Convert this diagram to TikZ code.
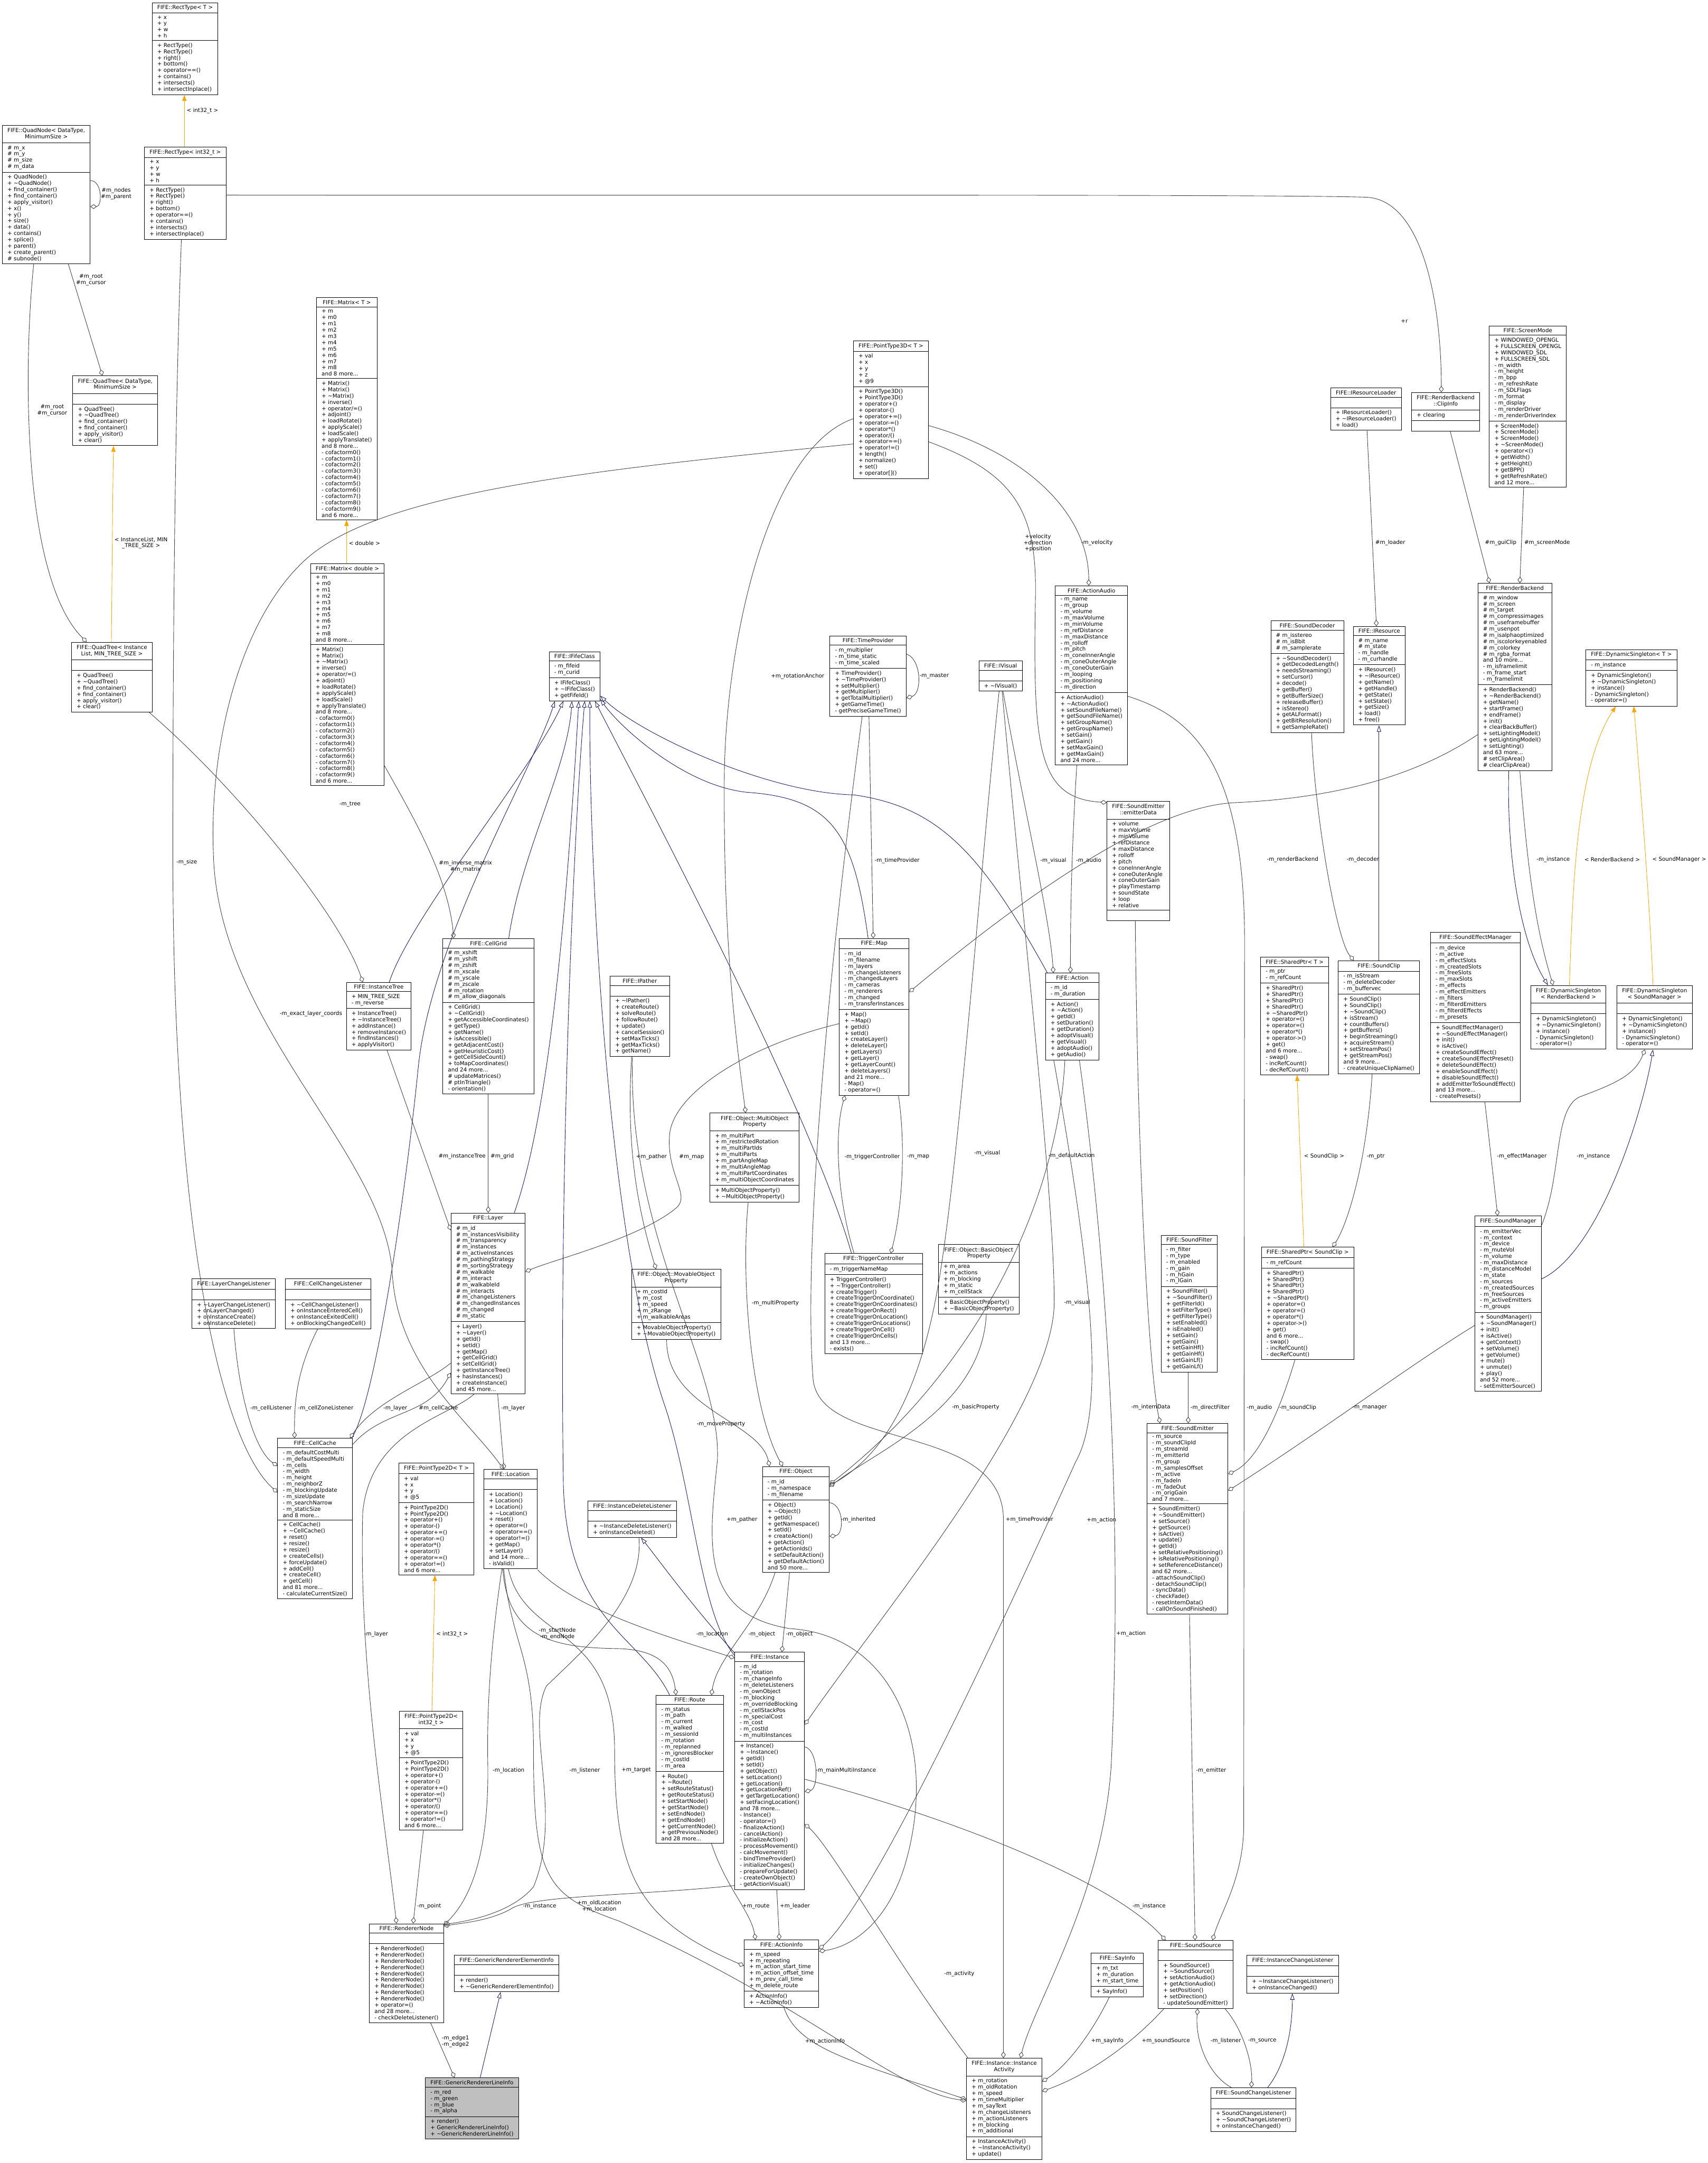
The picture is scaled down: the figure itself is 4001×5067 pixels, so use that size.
\documentclass[tikz,border=0pt]{standalone}
\usepackage{fontspec}
\setmainfont{DejaVu Sans}
\usetikzlibrary{shapes.multipart,arrows.meta,calc}
\definecolor{navy}{HTML}{191970}
\definecolor{egray}{HTML}{404040}
\definecolor{orng}{HTML}{FFA500}
\definecolor{lgray}{HTML}{BFBFBF}
\newcommand{\cf}{\fontsize{6.4pt}{7.35pt}\selectfont}
\newcommand{\tld}{\textasciitilde}
\newcommand{\ctr}[1]{\begin{tabular}{@{}c@{}}#1\end{tabular}}
\newcommand{\rectm}{+ RectType()\\+ RectType()\\+ right()\\+ bottom()\\+ operator==()\\+ contains()\\+ intersects()\\+ intersectInplace()}
\newcommand{\qtm}{+ QuadTree()\\+ \tld QuadTree()\\+ find\_container()\\+ find\_container()\\+ apply\_visitor()\\+ clear()}
\newcommand{\mtxa}{+ m\\+ m0\\+ m1\\+ m2\\+ m3\\+ m4\\+ m5\\+ m6\\+ m7\\+ m8\\and 8 more...}
\newcommand{\mtxm}{+ Matrix()\\+ Matrix()\\+ \tld Matrix()\\+ inverse()\\+ operator/=()\\+ adjoint()\\+ loadRotate()\\+ applyScale()\\+ loadScale()\\+ applyTranslate()\\and 8 more...\\- cofactorm0()\\- cofactorm1()\\- cofactorm2()\\- cofactorm3()\\- cofactorm4()\\- cofactorm5()\\- cofactorm6()\\- cofactorm7()\\- cofactorm8()\\- cofactorm9()\\and 6 more...}
\newcommand{\ptm}{+ PointType2D()\\+ PointType2D()\\+ operator+()\\+ operator-()\\+ operator+=()\\+ operator-=()\\+ operator*()\\+ operator/()\\+ operator==()\\+ operator!=()\\and 6 more...}
\newcommand{\spm}{+ SharedPtr()\\+ SharedPtr()\\+ SharedPtr()\\+ SharedPtr()\\+ \tld SharedPtr()\\+ operator=()\\+ operator=()\\+ operator*()\\+ operator->()\\+ get()\\and 6 more...\\- swap()\\- incRefCount()\\- decRefCount()}
\newcommand{\dsm}{+ DynamicSingleton()\\+ \tld DynamicSingleton()\\+ instance()\\- DynamicSingleton()\\- operator=()}
\tikzset{
  cls/.style={draw=black, line width=0.6pt, fill=white, rectangle split, rectangle split parts=3,
    anchor=north west, font=\cf, inner xsep=6pt, inner ysep=2.7pt, align=left,
    rectangle split part align={center,left,left},
    rectangle split empty part height=6.4pt, rectangle split empty part depth=0pt},
  assoc/.style={draw=egray, line width=0.55pt, -{Diamond[open,length=7.5pt,width=5.5pt]}},
  inh/.style={draw=navy, line width=0.55pt, -{Triangle[open,length=7.5pt,width=5pt]}},
  tmpl/.style={draw=orng, line width=0.55pt, -{Triangle[length=7pt,width=5pt,fill=orng]}},
  lbl/.style={font=\cf, inner sep=0pt, anchor=west, align=center},
}
\begin{document}
\begin{tikzpicture}[x=0.5pt,y=-0.5pt]
\useasboundingbox (0,0) rectangle (4001,5067);
\fill[white] (0,0) rectangle (4001,5067);

% ---------------- classes ----------------
\node[cls] (rt) at (356,6) {FIFE::RectType< T >\nodepart{two}+ x\\+ y\\+ w\\+ h\nodepart{three}\rectm};
\node[cls] (rti) at (338,344) {FIFE::RectType< int32\_t >\nodepart{two}+ x\\+ y\\+ w\\+ h\nodepart{three}\rectm};
\node[cls] (qn) at (5,293) {\ctr{FIFE::QuadNode< DataType,\\ MinimumSize >}\nodepart{two}\# m\_x\\\# m\_y\\\# m\_size\\\# m\_data\nodepart{three}+ QuadNode()\\+ \tld QuadNode()\\+ find\_container()\\+ find\_container()\\+ apply\_visitor()\\+ x()\\+ y()\\+ size()\\+ data()\\+ contains()\\+ splice()\\+ parent()\\+ create\_parent()\\\# subnode()};
\node[cls] (qt) at (170,880) {\ctr{FIFE::QuadTree< DataType,\\ MinimumSize >}\nodepart{two}\nodepart{three}\qtm};
\node[cls] (qti) at (167,1504) {\ctr{FIFE::QuadTree< Instance\\List, MIN\_TREE\_SIZE >}\nodepart{two}\nodepart{three}\qtm};
\node[cls] (mt) at (741,697) {FIFE::Matrix< T >\nodepart{two}\mtxa\nodepart{three}\mtxm};
\node[cls] (md) at (727,1320) {FIFE::Matrix< double >\nodepart{two}\mtxa\nodepart{three}\mtxm};
\node[cls] (ifc) at (1286,1526) {FIFE::IFifeClass\nodepart{two}- m\_fifeid\\- m\_curid\nodepart{three}+ IFifeClass()\\+ \tld IFifeClass()\\+ getFifeId()};
\node[cls] (it) at (811,2301) {FIFE::InstanceTree\nodepart{two}+ MIN\_TREE\_SIZE\\- m\_reverse\nodepart{three}+ InstanceTree()\\+ \tld InstanceTree()\\+ addInstance()\\+ removeInstance()\\+ findInstances()\\+ applyVisitor()};
\node[cls] (cg) at (1037,2198) {FIFE::CellGrid\nodepart{two}\# m\_xshift\\\# m\_yshift\\\# m\_zshift\\\# m\_xscale\\\# m\_yscale\\\# m\_zscale\\\# m\_rotation\\\# m\_allow\_diagonals\nodepart{three}+ CellGrid()\\+ \tld CellGrid()\\+ getAccessibleCoordinates()\\+ getType()\\+ getName()\\+ isAccessible()\\+ getAdjacentCost()\\+ getHeuristicCost()\\+ getCellSideCount()\\+ toMapCoordinates()\\and 24 more...\\\# updateMatrices()\\\# ptInTriangle()\\- orientation()};
\node[cls] (ly) at (1056,2841) {FIFE::Layer\nodepart{two}\# m\_id\\\# m\_instancesVisibility\\\# m\_transparency\\\# m\_instances\\\# m\_activeInstances\\\# m\_pathingStrategy\\\# m\_sortingStrategy\\\# m\_walkable\\\# m\_interact\\\# m\_walkableId\\\# m\_interacts\\\# m\_changeListeners\\\# m\_changedInstances\\\# m\_changed\\\# m\_static\nodepart{three}+ Layer()\\+ \tld Layer()\\+ getId()\\+ setId()\\+ getMap()\\+ getCellGrid()\\+ setCellGrid()\\+ getInstanceTree()\\+ hasInstances()\\+ createInstance()\\and 45 more...};
\node[cls] (lcl) at (449,2995) {FIFE::LayerChangeListener\nodepart{two}\nodepart{three}+ \tld LayerChangeListener()\\+ onLayerChanged()\\+ onInstanceCreate()\\+ onInstanceDelete()};
\node[cls] (ccl) at (668,2995) {FIFE::CellChangeListener\nodepart{two}\nodepart{three}+ \tld CellChangeListener()\\+ onInstanceEnteredCell()\\+ onInstanceExitedCell()\\+ onBlockingChangedCell()};
\node[cls] (cc) at (650,3369) {FIFE::CellCache\nodepart{two}- m\_defaultCostMulti\\- m\_defaultSpeedMulti\\- m\_cells\\- m\_width\\- m\_height\\- m\_neighborZ\\- m\_blockingUpdate\\- m\_sizeUpdate\\- m\_searchNarrow\\- m\_staticSize\\and 8 more...\nodepart{three}+ CellCache()\\+ \tld CellCache()\\+ reset()\\+ resize()\\+ resize()\\+ createCells()\\+ forceUpdate()\\+ addCell()\\+ createCell()\\+ getCell()\\and 81 more...\\- calculateCurrentSize()};
\node[cls] (p2) at (934,3427) {FIFE::PointType2D< T >\nodepart{two}+ val\\+ x\\+ y\\+ @5\nodepart{three}\ptm};
\node[cls] (loc) at (1133,3442) {FIFE::Location\nodepart{two}\nodepart{three}+ Location()\\+ Location()\\+ Location()\\+ \tld Location()\\+ reset()\\+ operator=()\\+ operator==()\\+ operator!=()\\+ getMap()\\+ setLayer()\\and 14 more...\\- isValid()};
\node[cls] (idl) at (1377,3516) {FIFE::InstanceDeleteListener\nodepart{two}\nodepart{three}+ \tld InstanceDeleteListener()\\+ onInstanceDeleted()};
\node[cls] (p2i) at (935,4008) {\ctr{FIFE::PointType2D<\\ int32\_t >}\nodepart{two}+ val\\+ x\\+ y\\+ @5\nodepart{three}\ptm};
\node[cls] (rn) at (865,4506) {FIFE::RendererNode\nodepart{two}\nodepart{three}+ RendererNode()\\+ RendererNode()\\+ RendererNode()\\+ RendererNode()\\+ RendererNode()\\+ RendererNode()\\+ RendererNode()\\+ RendererNode()\\+ RendererNode()\\+ operator=()\\and 28 more...\\- checkDeleteListener()};
\node[cls] (gre) at (1064,4580) {FIFE::GenericRendererElementInfo\nodepart{two}\nodepart{three}+ render()\\+ \tld GenericRendererElementInfo()};
\node[cls, fill=lgray] (grl) at (996,4867) {FIFE::GenericRendererLineInfo\nodepart{two}- m\_red\\- m\_green\\- m\_blue\\- m\_alpha\nodepart{three}+ render()\\+ GenericRendererLineInfo()\\+ \tld GenericRendererLineInfo()};
\node[cls] (ip) at (1429,2286) {FIFE::IPather\nodepart{two}\nodepart{three}+ \tld IPather()\\+ createRoute()\\+ solveRoute()\\+ followRoute()\\+ update()\\+ cancelSession()\\+ setMaxTicks()\\+ getMaxTicks()\\+ getName()};
\node[cls] (mop) at (1479,2973) {\ctr{FIFE::Object::MovableObject\\Property}\nodepart{two}+ m\_costId\\+ m\_cost\\+ m\_speed\\+ m\_zRange\\+ m\_walkableAreas\nodepart{three}+ MovableObjectProperty()\\+ \tld MovableObjectProperty()};
\node[cls] (mup) at (1663,2607) {\ctr{FIFE::Object::MultiObject\\Property}\nodepart{two}+ m\_multiPart\\+ m\_restrictedRotation\\+ m\_multiPartIds\\+ m\_multiParts\\+ m\_partAngleMap\\+ m\_multiAngleMap\\+ m\_multiPartCoordinates\\+ m\_multiObjectCoordinates\nodepart{three}+ MultiObjectProperty()\\+ \tld MultiObjectProperty()};
\node[cls] (tc) at (1932,2936) {FIFE::TriggerController\nodepart{two}- m\_triggerNameMap\nodepart{three}+ TriggerController()\\+ \tld TriggerController()\\+ createTrigger()\\+ createTriggerOnCoordinate()\\+ createTriggerOnCoordinates()\\+ createTriggerOnRect()\\+ createTriggerOnLocation()\\+ createTriggerOnLocations()\\+ createTriggerOnCell()\\+ createTriggerOnCells()\\and 13 more...\\- exists()};
\node[cls] (map) at (1966,2198) {FIFE::Map\nodepart{two}- m\_id\\- m\_filename\\- m\_layers\\- m\_changeListeners\\- m\_changedLayers\\- m\_cameras\\- m\_renderers\\- m\_changed\\- m\_transferInstances\nodepart{three}+ Map()\\+ \tld Map()\\+ getId()\\+ setId()\\+ createLayer()\\+ deleteLayer()\\+ getLayers()\\+ getLayer()\\+ getLayerCount()\\+ deleteLayers()\\and 21 more...\\- Map()\\- operator=()};
\node[cls] (tp) at (1944,1489) {FIFE::TimeProvider\nodepart{two}- m\_multiplier\\- m\_time\_static\\- m\_time\_scaled\nodepart{three}+ TimeProvider()\\+ \tld TimeProvider()\\+ setMultiplier()\\+ getMultiplier()\\+ getTotalMultiplier()\\+ getGameTime()\\- getPreciseGameTime()};
\node[cls] (p3) at (1999,798) {FIFE::PointType3D< T >\nodepart{two}+ val\\+ x\\+ y\\+ z\\+ @9\nodepart{three}+ PointType3D()\\+ PointType3D()\\+ operator+()\\+ operator-()\\+ operator+=()\\+ operator-=()\\+ operator*()\\+ operator/()\\+ operator==()\\+ operator!=()\\+ length()\\+ normalize()\\+ set()\\+ operator[]()};
\node[cls] (obj) at (1786,3435) {FIFE::Object\nodepart{two}- m\_id\\- m\_namespace\\- m\_filename\nodepart{three}+ Object()\\+ \tld Object()\\+ getId()\\+ getNamespace()\\+ setId()\\+ createAction()\\+ getAction()\\+ getActionIds()\\+ setDefaultAction()\\+ getDefaultAction()\\and 50 more...};
\node[cls] (rt2) at (1537,3971) {FIFE::Route\nodepart{two}- m\_status\\- m\_path\\- m\_current\\- m\_walked\\- m\_sessionId\\- m\_rotation\\- m\_replanned\\- m\_ignoresBlocker\\- m\_costId\\- m\_area\nodepart{three}+ Route()\\+ \tld Route()\\+ setRouteStatus()\\+ getRouteStatus()\\+ setStartNode()\\+ getStartNode()\\+ setEndNode()\\+ getEndNode()\\+ getCurrentNode()\\+ getPreviousNode()\\and 28 more...};
\node[cls] (inst) at (1721,3870) {FIFE::Instance\nodepart{two}- m\_id\\- m\_rotation\\- m\_changeInfo\\- m\_deleteListeners\\- m\_ownObject\\- m\_blocking\\- m\_overrideBlocking\\- m\_cellStackPos\\- m\_specialCost\\- m\_cost\\- m\_costId\\- m\_multiInstances\nodepart{three}+ Instance()\\+ \tld Instance()\\+ getId()\\+ setId()\\+ getObject()\\+ setLocation()\\+ getLocation()\\+ getLocationRef()\\+ getTargetLocation()\\+ setFacingLocation()\\and 78 more...\\- Instance()\\- operator=()\\- finalizeAction()\\- cancelAction()\\- initializeAction()\\- processMovement()\\- calcMovement()\\- bindTimeProvider()\\- initializeChanges()\\- prepareForUpdate()\\- createOwnObject()\\- getActionVisual()};
\node[cls] (ai) at (1743,4544) {FIFE::ActionInfo\nodepart{two}+ m\_speed\\+ m\_repeating\\+ m\_action\_start\_time\\+ m\_action\_offset\_time\\+ m\_prev\_call\_time\\+ m\_delete\_route\nodepart{three}+ ActionInfo()\\+ \tld ActionInfo()};
\node[cls] (ia) at (2264,4821) {\ctr{FIFE::Instance::Instance\\Activity}\nodepart{two}+ m\_rotation\\+ m\_oldRotation\\+ m\_speed\\+ m\_timeMultiplier\\+ m\_sayText\\+ m\_changeListeners\\+ m\_actionListeners\\+ m\_blocking\\+ m\_additional\nodepart{three}+ InstanceActivity()\\+ \tld InstanceActivity()\\+ update()};
\node[cls] (iv) at (2293,1548) {FIFE::IVisual\nodepart{two}\nodepart{three}+ \tld IVisual()};
\node[cls] (aa) at (2472,1372) {FIFE::ActionAudio\nodepart{two}- m\_name\\- m\_group\\- m\_volume\\- m\_maxVolume\\- m\_minVolume\\- m\_refDistance\\- m\_maxDistance\\- m\_rolloff\\- m\_pitch\\- m\_coneInnerAngle\\- m\_coneOuterAngle\\- m\_coneOuterGain\\- m\_looping\\- m\_positioning\\- m\_direction\nodepart{three}+ ActionAudio()\\+ \tld ActionAudio()\\+ setSoundFileName()\\+ getSoundFileName()\\+ setGroupName()\\+ getGroupName()\\+ setGain()\\+ getGain()\\+ setMaxGain()\\+ getMaxGain()\\and 24 more...};
\node[cls] (ed) at (2593,1877) {\ctr{FIFE::SoundEmitter\\::emitterData}\nodepart{two}+ volume\\+ maxVolume\\+ minVolume\\+ refDistance\\+ maxDistance\\+ rolloff\\+ pitch\\+ coneInnerAngle\\+ coneOuterAngle\\+ coneOuterGain\\+ playTimestamp\\+ soundState\\+ loop\\+ relative\nodepart{three}};
\node[cls] (act) at (2449,2279) {FIFE::Action\nodepart{two}- m\_id\\- m\_duration\nodepart{three}+ Action()\\+ \tld Action()\\+ getId()\\+ setDuration()\\+ getDuration()\\+ adoptVisual()\\+ getVisual()\\+ adoptAudio()\\+ getAudio()};
\node[cls] (bop) at (2198,2915) {\ctr{FIFE::Object::BasicObject\\Property}\nodepart{two}+ m\_area\\+ m\_actions\\+ m\_blocking\\+ m\_static\\+ m\_cellStack\nodepart{three}+ BasicObjectProperty()\\+ \tld BasicObjectProperty()};
\node[cls] (sf) at (2720,2893) {FIFE::SoundFilter\nodepart{two}- m\_filter\\- m\_type\\- m\_enabled\\- m\_gain\\- m\_hGain\\- m\_lGain\nodepart{three}+ SoundFilter()\\+ \tld SoundFilter()\\+ getFilterId()\\+ setFilterType()\\+ getFilterType()\\+ setEnabled()\\+ isEnabled()\\+ setGain()\\+ getGain()\\+ setGainHf()\\+ getGainHf()\\+ setGainLf()\\+ getGainLf()};
\node[cls] (se) at (2687,3334) {FIFE::SoundEmitter\nodepart{two}- m\_source\\- m\_soundClipId\\- m\_streamId\\- m\_emitterId\\- m\_group\\- m\_samplesOffset\\- m\_active\\- m\_fadeIn\\- m\_fadeOut\\- m\_origGain\\and 7 more...\nodepart{three}+ SoundEmitter()\\+ \tld SoundEmitter()\\+ setSource()\\+ getSource()\\+ isActive()\\+ update()\\+ getId()\\+ setRelativePositioning()\\+ isRelativePositioning()\\+ setReferenceDistance()\\and 62 more...\\- attachSoundClip()\\- detachSoundClip()\\- syncData()\\- checkFade()\\- resetInternData()\\- callOnSoundFinished()};
\node[cls] (si) at (2556,4575) {FIFE::SayInfo\nodepart{two}+ m\_txt\\+ m\_duration\\+ m\_start\_time\nodepart{three}+ SayInfo()};
\node[cls] (ss) at (2713,4545) {FIFE::SoundSource\nodepart{two}\nodepart{three}+ SoundSource()\\+ \tld SoundSource()\\+ setActionAudio()\\+ getActionAudio()\\+ setPosition()\\+ setDirection()\\- updateSoundEmitter()};
\node[cls] (icl) at (2921,4580) {FIFE::InstanceChangeListener\nodepart{two}\nodepart{three}+ \tld InstanceChangeListener()\\+ onInstanceChanged()};
\node[cls] (scl) at (2836,4890) {FIFE::SoundChangeListener\nodepart{two}\nodepart{three}+ SoundChangeListener()\\+ \tld SoundChangeListener()\\+ onInstanceChanged()};
\node[cls] (sd) at (2977,1454) {FIFE::SoundDecoder\nodepart{two}\# m\_isstereo\\\# m\_is8bit\\\# m\_samplerate\nodepart{three}+ \tld SoundDecoder()\\+ getDecodedLength()\\+ needsStreaming()\\+ setCursor()\\+ decode()\\+ getBuffer()\\+ getBufferSize()\\+ releaseBuffer()\\+ isStereo()\\+ getALFormat()\\+ getBitResolution()\\+ getSampleRate()};
\node[cls] (irl) at (3117,908) {FIFE::IResourceLoader\nodepart{two}\nodepart{three}+ IResourceLoader()\\+ \tld IResourceLoader()\\+ load()};
\node[cls] (ir) at (3170,1467) {FIFE::IResource\nodepart{two}\# m\_name\\\# m\_state\\- m\_handle\\- m\_curhandle\nodepart{three}+ IResource()\\+ \tld IResource()\\+ getName()\\+ getHandle()\\+ getState()\\+ setState()\\+ getSize()\\+ load()\\+ free()};
\node[cls] (spt) at (2953,2242) {FIFE::SharedPtr< T >\nodepart{two}- m\_ptr\\- m\_refCount\nodepart{three}\spm};
\node[cls] (sc) at (3135,2250) {FIFE::SoundClip\nodepart{two}- m\_isStream\\- m\_deleteDecoder\\- m\_buffervec\nodepart{three}+ SoundClip()\\+ SoundClip()\\+ \tld SoundClip()\\+ isStream()\\+ countBuffers()\\+ getBuffers()\\+ beginStreaming()\\+ acquireStream()\\+ setStreamPos()\\+ getStreamPos()\\and 9 more...\\- createUniqueClipName()};
\node[cls] (spc) at (2955,2921) {FIFE::SharedPtr< SoundClip >\nodepart{two}- m\_refCount\nodepart{three}\spm};
\node[cls] (sem) at (3351,2184) {FIFE::SoundEffectManager\nodepart{two}- m\_device\\- m\_active\\- m\_effectSlots\\- m\_createdSlots\\- m\_freeSlots\\- m\_maxSlots\\- m\_effects\\- m\_effectEmitters\\- m\_filters\\- m\_filterdEmitters\\- m\_filterdEffects\\- m\_presets\nodepart{three}+ SoundEffectManager()\\+ \tld SoundEffectManager()\\+ init()\\+ isActive()\\+ createSoundEffect()\\+ createSoundEffectPreset()\\+ deleteSoundEffect()\\+ enableSoundEffect()\\+ disableSoundEffect()\\+ addEmitterToSoundEffect()\\and 13 more...\\- createPresets()};
\node[cls] (sm) at (3455,2848) {FIFE::SoundManager\nodepart{two}- m\_emitterVec\\- m\_context\\- m\_device\\- m\_muteVol\\- m\_volume\\- m\_maxDistance\\- m\_distanceModel\\- m\_state\\- m\_sources\\- m\_createdSources\\- m\_freeSources\\- m\_activeEmitters\\- m\_groups\nodepart{three}+ SoundManager()\\+ \tld SoundManager()\\+ init()\\+ isActive()\\+ getContext()\\+ setVolume()\\+ getVolume()\\+ mute()\\+ unmute()\\+ play()\\and 52 more...\\- setEmitterSource()};
\node[cls] (ci) at (3307,919) {\ctr{FIFE::RenderBackend\\::ClipInfo}\nodepart{two}+ clearing\nodepart{three}};
\node[cls] (scm) at (3489,763) {FIFE::ScreenMode\nodepart{two}+ WINDOWED\_OPENGL\\+ FULLSCREEN\_OPENGL\\+ WINDOWED\_SDL\\+ FULLSCREEN\_SDL\\- m\_width\\- m\_height\\- m\_bpp\\- m\_refreshRate\\- m\_SDLFlags\\- m\_format\\- m\_display\\- m\_renderDriver\\- m\_renderDriverIndex\nodepart{three}+ ScreenMode()\\+ ScreenMode()\\+ ScreenMode()\\+ \tld ScreenMode()\\+ operator<()\\+ getWidth()\\+ getHeight()\\+ getBPP()\\+ getRefreshRate()\\and 12 more...};
\node[cls] (rb) at (3462,1366) {FIFE::RenderBackend\nodepart{two}\# m\_window\\\# m\_screen\\\# m\_target\\\# m\_compressimages\\\# m\_useframebuffer\\\# m\_usenpot\\\# m\_isalphaoptimized\\\# m\_iscolorkeyenabled\\\# m\_colorkey\\\# m\_rgba\_format\\and 10 more...\\- m\_isframelimit\\- m\_frame\_start\\- m\_framelimit\nodepart{three}+ RenderBackend()\\+ \tld RenderBackend()\\+ getName()\\+ startFrame()\\+ endFrame()\\+ init()\\+ clearBackBuffer()\\+ setLightingModel()\\+ getLightingModel()\\+ setLighting()\\and 63 more...\\\# setClipArea()\\\# clearClipArea()};
\node[cls] (dst) at (3715,1521) {FIFE::DynamicSingleton< T >\nodepart{two}- m\_instance\nodepart{three}\dsm};
\node[cls] (dsr) at (3586,2308) {\ctr{FIFE::DynamicSingleton\\< RenderBackend >}\nodepart{two}\nodepart{three}\dsm};
\node[cls] (dss) at (3788,2308) {\ctr{FIFE::DynamicSingleton\\< SoundManager >}\nodepart{two}\nodepart{three}\dsm};

% ---------------- template instances ----------------
\draw[tmpl] ($(rti.north west)+(94,0)$) -- ($(rt.south west)+(76,0)$);
\node[lbl] (l01) at (437,260) {< int32\_t >};
\draw[tmpl] ($(qti.north west)+(94,0)$) .. controls (262,1400) and (264,1150) .. ($(qt.south west)+(96,0)$);
\node[lbl] (l02) at (268,1272) {< InstanceList, MIN\\\_TREE\_SIZE >};
\draw[tmpl] ($(md.north west)+(85,0)$) -- ($(mt.south west)+(71,0)$);
\node[lbl] (l03) at (817,1272) {< double >};
\draw[tmpl] ($(p2i.north west)+(77,0)$) -- ($(p2.south west)+(85,0)$);
\node[lbl] (l04) at (1022,3828) {< int32\_t >};
\draw[tmpl] ($(spc.north west)+(100,0)$) -- ($(spt.south west)+(86,0)$);
\node[lbl] (l05) at (3055,2709) {< SoundClip >};
\draw[tmpl] ($(dsr.north west)+(91,0)$) .. controls (3685,2100) and (3690,1800) .. ($(dst.south west)+(71,0)$);
\node[lbl] (l06) at (3712,2014) {< RenderBackend >};
\draw[tmpl] ($(dss.north west)+(85,0)$) .. controls (3865,2100) and (3840,1800) .. ($(dst.south west)+(113,0)$);
\node[lbl] (l07) at (3871,2014) {< SoundManager >};

% ---------------- inheritance ----------------
\draw[inh] ($(it.north west)+(101,0)$) .. controls (960,2150) and (1250,1800) .. ($(ifc.south west)+(34,0)$);
\draw[inh] ($(cg.north west)+(155,0)$) .. controls (1220,2000) and (1330,1800) .. ($(ifc.south west)+(54,0)$);
\draw[inh] ($(ly.north west)+(149,0)$) .. controls (1290,2600) and (1330,2100) .. ($(ifc.south west)+(70,0)$);
\draw[inh] ($(cc.north east)+(-2,0)$) .. controls (880,3280) and (950,2800) .. (980,2500) .. controls (1010,2200) and (1250,1800) .. ($(ifc.south west)+(14,0)$);
\draw[inh] ($(rt2.north west)+(32,0)$) .. controls (1500,3830) and (1330,3800) .. (1320,3480) .. controls (1310,2800) and (1340,2000) .. ($(ifc.south west)+(84,0)$);
\draw[inh] ($(inst.north west)+(0,8)$) .. controls (1640,3780) and (1625,3500) .. (1560,3300) .. controls (1420,2900) and (1380,2000) .. ($(ifc.south west)+(96,0)$);
\draw[inh] ($(tc.north west)+(63,0)$) .. controls (1900,2600) and (1500,1850) .. ($(ifc.south west)+(108,0)$);
\draw[inh] ($(map.north west)+(68,0)$) .. controls (2000,1950) and (1950,1870) .. (1750,1856) .. controls (1600,1840) and (1450,1700) .. ($(ifc.north east)+(0,112)$);
\draw[inh] ($(act.north west)+(5,0)$) .. controls (2300,2000) and (2200,1890) .. (2000,1862) .. controls (1800,1858) and (1500,1720) .. ($(ifc.north east)+(0,104)$);
\draw[inh] ($(inst.north west)+(0,2)$) .. controls (1620,3760) and (1540,3650) .. ($(idl.south west)+(125,0)$);
\draw[inh] ($(grl.north west)+(129,0)$) -- ($(gre.south west)+(109,0)$);
\draw[inh] ($(scl.north west)+(134,0)$) .. controls (3010,4840) and (3028,4760) .. ($(icl.south west)+(107,0)$);
\draw[inh] ($(sc.north west)+(96,0)$) -- ($(ir.south west)+(61,0)$);
\draw[inh] ($(rb.south west)+(73,0)$) .. controls (3530,2000) and (3560,2200) .. ($(dsr.north west)+(41,0)$);
\draw[inh] ($(sm.north east)+(0,148)$) .. controls (3750,2930) and (3850,2600) .. ($(dss.south west)+(85,0)$);

% ---------------- associations ----------------
\draw[assoc] ($(qn.north east)+(0,130)$) .. controls (240,423) and (240,484) .. ($(qn.north east)+(0,191)$);
\node[lbl] (l10) at (236,454) {\#m\_nodes\\\#m\_parent};
\draw[assoc] ($(qn.south west)+(155,0)$) -- ($(qt.north west)+(70,0)$);
\node[lbl] (l11) at (178,656) {\#m\_root\\\#m\_cursor};
\draw[assoc] ($(qn.south west)+(74,0)$) .. controls (55,850) and (50,1350) .. ($(qti.north west)+(36,0)$);
\node[lbl] (l12) at (87,961) {\#m\_root\\\#m\_cursor};
\draw[assoc] ($(rti.north east)+(0,113)$) .. controls (1500,458) and (3000,455) .. (3200,462) .. controls (3330,466) and (3377,700) .. ($(ci.north west)+(70,0)$);
\node[lbl] (l13) at (3282,752) {+r};
\draw[assoc] ($(rti.south west)+(87,0)$) .. controls (412,900) and (405,1400) .. (405,2000) .. controls (405,2900) and (520,3380) .. ($(cc.north west)+(0,127)$);
\node[lbl] (l14) at (413,2020) {-m\_size};
\draw[assoc] ($(qti.south west)+(182,0)$) .. controls (560,1850) and (800,2150) .. ($(it.north west)+(39,0)$);
\node[lbl] (l15) at (795,1884) {-m\_tree};
\draw[assoc] ($(md.north east)+(0,474)$) .. controls (960,1900) and (1050,2050) .. ($(cg.north west)+(26,0)$);
\node[lbl] (l16) at (1028,2030) {\#m\_inverse\_matrix\\\#m\_matrix};
\draw[assoc] ($(p3.north west)+(0,242)$) .. controls (1400,1100) and (900,1150) .. (719,1308) .. controls (560,1450) and (490,1750) .. (500,2000) .. controls (510,2400) and (900,2700) .. (919,2980) .. controls (930,3200) and (1100,3330) .. ($(loc.north west)+(47,0)$);
\node[lbl] (l17) at (655,2375) {-m\_exact\_layer\_coords};
\draw[assoc] ($(p3.north west)+(0,183)$) .. controls (1800,1050) and (1700,1500) .. (1697,1822) .. controls (1695,2200) and (1720,2400) .. ($(mup.north west)+(84,0)$);
\node[lbl] (l18) at (1806,1584) {+m\_rotationAnchor};
\draw[assoc] ($(p3.north east)+(0,199)$) .. controls (2400,1060) and (2551,1200) .. ($(aa.north west)+(79,0)$);
\node[lbl] (l19) at (2533,1272) {-m\_velocity};
\draw[assoc] ($(p3.north east)+(0,237)$) .. controls (2380,1110) and (2430,1200) .. (2426,1400) .. controls (2420,1750) and (2430,1870) .. ($(ed.north west)+(0,3)$);
\node[lbl] (l20) at (2398,1272) {+velocity\\+direction\\+position};
\draw[assoc] ($(ip.south west)+(51,0)$) .. controls (1465,2700) and (1500,2850) .. ($(mop.north west)+(58,0)$);
\node[lbl] (l21) at (1490,2710) {+m\_pather};
\draw[assoc] ($(ip.south west)+(53,0)$) .. controls (1470,2900) and (1690,3200) .. (1681,3420) .. controls (1660,3620) and (1640,3780) .. (1850,3815) .. controls (2100,3830) and (2200,4100) .. (2120,4370) .. controls (2080,4500) and (2000,4560) .. ($(ai.north east)+(0,27)$);
\node[lbl] (l22) at (1702,3560) {+m\_pather};
\draw[assoc] ($(map.north west)+(0,200)$) .. controls (1750,2450) and (1580,2560) .. (1569,2656) .. controls (1560,2750) and (1620,2800) .. (1584,2830) .. controls (1500,2900) and (1300,2950) .. ($(ly.north east)+(0,138)$);
\node[lbl] (l23) at (1591,2710) {\#m\_map};
\draw[assoc] ($(tc.north west)+(69,0)$) .. controls (1960,2800) and (1955,2650) .. ($(map.south west)+(14,0)$);
\node[lbl] (l24) at (1978,2710) {-m\_triggerController};
\draw[assoc] ($(map.south west)+(139,0)$) .. controls (2125,2700) and (2110,2850) .. ($(tc.north west)+(155,0)$);
\node[lbl] (l25) at (2125,2710) {-m\_map};
\draw[assoc] ($(tp.south west)+(92,0)$) -- ($(map.north west)+(80,0)$);
\node[lbl] (l26) at (2049,2016) {-m\_timeProvider};
\draw[assoc] ($(tp.north east)+(0,43)$) .. controls (2160,1545) and (2160,1625) .. ($(tp.north east)+(0,146)$);
\node[lbl] (l27) at (2154,1584) {-m\_master};
\draw[assoc] ($(tp.south west)+(76,0)$) .. controls (1950,2200) and (1880,2900) .. (1905,3230) .. controls (1920,3400) and (2351,3330) .. (2351,3560) -- ($(ia.north west)+(87,0)$);
\node[lbl] (l28) at (2356,3560) {+m\_timeProvider};
\draw[assoc] ($(mop.south west)+(83,0)$) .. controls (1560,3300) and (1780,3330) .. ($(obj.north west)+(17,0)$);
\node[lbl] (l29) at (1632,3336) {-m\_moveProperty};
\draw[assoc] ($(mup.south west)+(90,0)$) .. controls (1735,3000) and (1760,3300) .. ($(obj.north west)+(48,0)$);
\node[lbl] (l30) at (1761,3053) {-m\_multiProperty};
\draw[assoc] ($(bop.south west)+(113,0)$) .. controls (2300,3300) and (2050,3400) .. ($(obj.north east)+(0,48)$);
\node[lbl] (l31) at (2230,3297) {-m\_basicProperty};
\draw[assoc] ($(iv.south west)+(48,0)$) .. controls (2300,2000) and (2250,2700) .. (2200,3000) .. controls (2150,3300) and (2050,3420) .. ($(obj.north east)+(0,45)$);
\node[lbl] (l32) at (2282,2702) {-m\_visual};
\draw[assoc] ($(act.south west)+(46,0)$) .. controls (2480,2800) and (2300,3200) .. ($(obj.north east)+(0,42)$);
\node[lbl] (l33) at (2456,2708) {-m\_defaultAction};
\draw[assoc] ($(iv.south west)+(57,0)$) .. controls (2400,1900) and (2460,2150) .. ($(act.north west)+(19,0)$);
\node[lbl] (l34) at (2437,2016) {-m\_visual};
\draw[assoc] ($(aa.south west)+(51,0)$) .. controls (2510,2000) and (2508,2150) .. ($(act.north west)+(59,0)$);
\node[lbl] (l35) at (2521,2016) {-m\_audio};
\draw[assoc] ($(iv.south west)+(55,0)$) .. controls (2400,2200) and (2470,2800) .. (2470,3050) .. controls (2470,3300) and (2050,3800) .. ($(inst.north east)+(0,170)$);
\node[lbl] (l36) at (2493,3052) {-m\_visual};
\draw[assoc] ($(act.south west)+(20,0)$) .. controls (2560,3000) and (2590,3300) .. (2520,3425) .. controls (2350,3800) and (2050,4450) .. ($(ai.north east)+(0,22)$);
\node[lbl] (l37) at (2546,3561) {+m\_action};
\draw[assoc] ($(act.south west)+(80,0)$) .. controls (2600,3000) and (2630,3600) .. (2603,4144) .. controls (2580,4450) and (2420,4700) .. ($(ia.north west)+(127,0)$);
\node[lbl] (l38) at (2615,3827) {+m\_action};
\draw[assoc] ($(obj.north east)+(0,85)$) .. controls (1978,3525) and (1978,3595) .. ($(obj.north east)+(0,164)$);
\node[lbl] (l39) at (1970,3560) {-m\_inherited};
\draw[assoc] ($(obj.south west)+(64,0)$) -- ($(inst.north west)+(111,0)$);
\node[lbl] (l40) at (1841,3828) {-m\_object};
\draw[assoc] ($(obj.south west)+(30,0)$) .. controls (1780,3800) and (1680,3880) .. ($(rt2.north west)+(130,0)$);
\node[lbl] (l41) at (1753,3828) {-m\_object};
\draw[assoc] ($(loc.north east)+(0,235)$) .. controls (1350,3770) and (1550,3830) .. ($(inst.north west)+(0,14)$);
\node[lbl] (l42) at (1631,3828) {-m\_location};
\draw[assoc] ($(loc.south west)+(45,0)$) .. controls (1190,3840) and (1300,3860) .. (1450,3862) .. controls (1540,3865) and (1575,3900) .. ($(rt2.north west)+(47,0)$);
\node[lbl] (l43) at (1262,3827) {-m\_startNode\\-m\_endNode};
\draw[assoc] ($(loc.south west)+(43,0)$) .. controls (1150,3850) and (1140,4000) .. (1143,4138) .. controls (1145,4350) and (1100,4450) .. ($(rn.north east)+(0,4)$);
\node[lbl] (l44) at (1154,4147) {-m\_location};
\draw[assoc] ($(loc.south west)+(58,0)$) .. controls (1230,3850) and (1440,3800) .. (1440,4100) .. controls (1440,4400) and (1500,4500) .. ($(ai.north west)+(0,61)$);
\node[lbl] (l45) at (1456,4147) {+m\_target};
\draw[assoc] ($(loc.south west)+(47,0)$) .. controls (1200,3860) and (1250,3870) .. (1250,4100) .. controls (1250,4400) and (1280,4440) .. (1450,4500) .. controls (1900,4700) and (2100,4900) .. ($(ia.north west)+(0,100)$);
\node[lbl] (l46) at (1352,4466) {+m\_oldLocation\\+m\_location};
\draw[assoc] ($(inst.south west)+(0,-10)$) .. controls (1500,4440) and (1250,4440) .. (1200,4470) .. controls (1150,4500) and (1080,4505) .. ($(rn.north east)+(0,6)$);
\node[lbl] (l47) at (1225,4466) {-m\_instance};
\draw[assoc] ($(idl.south west)+(120,0)$) .. controls (1510,3750) and (1350,3880) .. (1280,3950) .. controls (1230,4050) and (1320,4250) .. (1250,4420) .. controls (1200,4480) and (1100,4500) .. ($(rn.north east)+(0,2)$);
\node[lbl] (l48) at (1334,4147) {-m\_listener};
\draw[assoc] ($(p2i.south west)+(57,0)$) -- ($(rn.north west)+(103,0)$);
\node[lbl] (l49) at (977,4466) {-m\_point};
\draw[assoc] ($(ly.south west)+(55,0)$) .. controls (1050,3320) and (870,3350) .. (850,3541) .. controls (840,3900) and (900,4250) .. ($(rn.north west)+(64,0)$);
\node[lbl] (l50) at (853,3828) {-m\_layer};
\draw[assoc] ($(ly.south west)+(110,0)$) -- ($(loc.north west)+(48,0)$);
\node[lbl] (l51) at (1174,3299) {-m\_layer};
\draw[assoc] ($(ly.north west)+(0,352)$) .. controls (1000,3240) and (880,3280) .. ($(cc.north east)+(-6,0)$);
\node[lbl] (l52) at (898,3299) {-m\_layer};
\draw[assoc] ($(cc.north east)+(0,15)$) .. controls (900,3300) and (1000,3320) .. ($(ly.north west)+(0,375)$);
\node[lbl] (l53) at (981,3299) {\#m\_cellCache};
\draw[assoc] ($(lcl.south west)+(99,0)$) .. controls (560,3280) and (600,3400) .. ($(cc.north west)+(0,65)$);
\node[lbl] (l54) at (586,3299) {-m\_cellListener};
\draw[assoc] ($(ccl.south west)+(76,0)$) .. controls (690,3220) and (690,3300) .. ($(cc.north west)+(40,0)$);
\node[lbl] (l55) at (698,3299) {-m\_cellZoneListener};
\draw[assoc] ($(cg.south west)+(107,0)$) -- ($(ly.north west)+(88,0)$);
\node[lbl] (l56) at (1149,2709) {\#m\_grid};
\draw[assoc] ($(it.south west)+(96,0)$) -- ($(ly.north west)+(0,41)$);
\node[lbl] (l57) at (1027,2709) {\#m\_instanceTree};
\draw[assoc] ($(rn.south west)+(144,0)$) -- ($(grl.north west)+(69,0)$);
\node[lbl] (l58) at (1035,4782) {-m\_edge1\\-m\_edge2};
\draw[assoc] ($(rt2.south west)+(130,0)$) .. controls (1700,4420) and (1760,4480) .. ($(ai.north west)+(27,0)$);
\node[lbl] (l59) at (1739,4466) {+m\_route};
\draw[assoc] ($(inst.south west)+(99,0)$) -- ($(ai.north west)+(83,0)$);
\node[lbl] (l60) at (1827,4466) {+m\_leader};
\draw[assoc] ($(inst.north east)+(0,222)$) .. controls (1918,4100) and (1918,4190) .. ($(inst.north east)+(0,327)$);
\node[lbl] (l61) at (1911,4147) {-m\_mainMultiInstance};
\draw[assoc] ($(ia.north west)+(4,0)$) .. controls (2100,4600) and (1950,4330) .. ($(inst.north east)+(0,403)$);
\node[lbl] (l62) at (2212,4624) {-m\_activity};
\draw[assoc] ($(ai.south west)+(94,0)$) .. controls (1870,4800) and (2000,4830) .. ($(ia.north west)+(0,97)$);
\node[lbl] (l63) at (1886,4782) {+m\_actionInfo};
\draw[assoc] ($(inst.north east)+(0,298)$) .. controls (2200,4250) and (2600,4400) .. ($(ss.north west)+(18,0)$);
\node[lbl] (l64) at (2653,4466) {-m\_instance};
\draw[assoc] ($(si.south west)+(43,0)$) .. controls (2560,4760) and (2500,4840) .. ($(ia.north east)+(0,55)$);
\node[lbl] (l65) at (2556,4781) {+m\_sayInfo};
\draw[assoc] ($(ss.south west)+(14,0)$) .. controls (2650,4790) and (2550,4860) .. ($(ia.north east)+(0,78)$);
\node[lbl] (l66) at (2675,4781) {+m\_soundSource};
\draw[assoc] ($(se.south west)+(100,0)$) -- ($(ss.north west)+(87,0)$);
\node[lbl] (l67) at (2802,4148) {-m\_emitter};
\draw[assoc] ($(aa.north east)+(0,259)$) .. controls (2800,1680) and (2915,1800) .. (2916,2200) -- (2914,4282) .. controls (2912,4400) and (2860,4480) .. ($(ss.north west)+(128,0)$);
\node[lbl] (l68) at (2921,3298) {-m\_audio};
\draw[assoc] ($(ed.south west)+(67,0)$) .. controls (2665,2700) and (2690,3200) .. ($(se.north west)+(31,0)$);
\node[lbl] (l69) at (2650,3297) {-m\_internData};
\draw[assoc] ($(sf.south west)+(64,0)$) -- ($(se.north west)+(97,0)$);
\node[lbl] (l70) at (2789,3298) {-m\_directFilter};
\draw[assoc] ($(spc.south west)+(79,0)$) .. controls (3000,3300) and (2950,3420) .. ($(se.north east)+(0,119)$);
\node[lbl] (l71) at (2997,3298) {-m\_soundClip};
\draw[assoc] ($(sm.north west)+(0,257)$) .. controls (3300,3200) and (3100,3350) .. ($(se.north east)+(0,158)$);
\node[lbl] (l72) at (3168,3298) {-m\_manager};
\draw[assoc] ($(ss.south west)+(157,0)$) .. controls (2910,4750) and (2935,4830) .. ($(scl.north west)+(96,0)$);
\node[lbl] (l73) at (2924,4781) {-m\_source};
\draw[assoc] ($(scl.north west)+(49,0)$) .. controls (2830,4860) and (2800,4780) .. ($(ss.south west)+(93,0)$);
\node[lbl] (l74) at (2836,4781) {-m\_listener};
\draw[assoc] ($(sd.south west)+(96,0)$) .. controls (3080,1900) and (3130,2200) .. ($(sc.north west)+(37,0)$);
\node[lbl] (l75) at (3155,2014) {-m\_decoder};
\draw[assoc] ($(irl.south west)+(86,0)$) -- ($(ir.north west)+(55,0)$);
\node[lbl] (l76) at (3222,1271) {\#m\_loader};
\draw[assoc] ($(sc.south west)+(80,0)$) .. controls (3200,2750) and (3150,2880) .. ($(spc.north west)+(167,0)$);
\node[lbl] (l77) at (3202,2709) {-m\_ptr};
\draw[assoc] ($(rb.north west)+(0,355)$) .. controls (3300,1830) and (3100,1870) .. (2900,1880) .. controls (2700,1885) and (2400,2100) .. ($(map.north east)+(0,126)$);
\node[lbl] (l78) at (2968,2014) {-m\_renderBackend};
\draw[assoc] ($(ci.south west)+(91,0)$) -- ($(rb.north west)+(28,0)$);
\node[lbl] (l79) at (3479,1272) {\#m\_guiClip};
\draw[assoc] ($(scm.south west)+(81,0)$) -- ($(rb.north west)+(99,0)$);
\node[lbl] (l80) at (3571,1272) {\#m\_screenMode};
\draw[assoc] ($(rb.south west)+(99,0)$) .. controls (3580,2050) and (3600,2180) .. ($(dsr.north west)+(53,0)$);
\node[lbl] (l81) at (3600,2014) {-m\_instance};
\draw[assoc] ($(sm.north east)+(0,22)$) .. controls (3660,2750) and (3640,2600) .. (3700,2570) .. controls (3780,2540) and (3830,2520) .. ($(dss.south west)+(66,0)$);
\node[lbl] (l82) at (3694,2709) {-m\_instance};
\draw[assoc] ($(sem.south west)+(128,0)$) -- ($(sm.north west)+(54,0)$);
\node[lbl] (l83) at (3507,2709) {-m\_effectManager};
\end{tikzpicture}
\end{document}
